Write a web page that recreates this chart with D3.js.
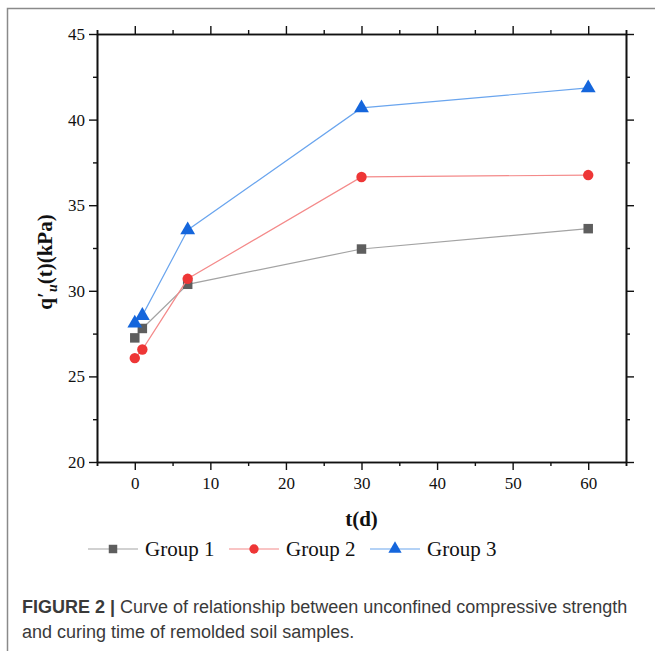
<!DOCTYPE html>
<html lang="en">

<head>
    <meta charset="UTF-8">
    <title>Figure 2</title>
    <style>
        body { margin: 0; background: #fff; }
        svg { display: block; }
        .tick text { font-family: "Liberation Serif", "Times New Roman", serif; }
    </style>
</head>

<body>
    <div id="chart"></div>

    <script src="https://d3js.org/d3.v7.min.js"></script>
    <script>

        // data
        const days = [0, 1, 7, 30, 60];
        const group1 = [27.25, 27.8, 30.38, 32.44, 33.63];
        const group2 = [26.07, 26.57, 30.7, 36.65, 36.76];
        const group3 = [28.1, 28.55, 33.55, 40.68, 41.85];
        const seriesNames = ["Group 1", "Group 2", "Group 3"];
        const xTicks = [0, 10, 20, 30, 40, 50, 60];
        const yTicks = [20, 25, 30, 35, 40, 45];

        const W = 655, H = 651;
        const margin = { top: 34, right: 29, bottom: 189, left: 97 },
            width = W - margin.left - margin.right,
            height = H - margin.top - margin.bottom;

        const serif = "Liberation Serif";
        const sans = "Liberation Sans";

        const svg = d3.select("#chart")
            .append("svg")
            .attr("width", W)
            .attr("height", H);

        // page frame (left and top rule)
        svg.append("path")
            .attr("d", `M7.5,${H} V8.5 H${W}`)
            .attr("fill", "none")
            .attr("stroke", "#8a8a8a")
            .attr("stroke-width", 1.5);

        const g = svg.append("g")
            .attr("transform", `translate(${margin.left}, ${margin.top})`);

        const x = d3.scaleLinear().domain([-5, 65]).range([0, width]);
        const y = d3.scaleLinear().domain([20, 45]).range([height, 0]);

        const minorX = d3.range(-5, 66, 10);
        const minorY = d3.range(22.5, 45, 5);

        function styleAxis(sel) {
            sel.attr("font-family", serif).attr("font-size", 17);
            sel.select(".domain").attr("stroke", "#111").attr("stroke-width", 1.6);
            sel.selectAll(".tick line").attr("stroke", "#111").attr("stroke-width", 1.4);
            sel.selectAll(".tick text").attr("fill", "#111");
        }

        // bottom axis
        g.append("g")
            .attr("transform", `translate(0, ${height})`)
            .call(d3.axisBottom(x).tickValues(xTicks).tickSize(8).tickSizeOuter(0).tickPadding(7))
            .call(styleAxis);
        g.append("g")
            .attr("transform", `translate(0, ${height})`)
            .call(d3.axisBottom(x).tickValues(minorX).tickSize(4).tickFormat(""))
            .call(styleAxis);

        // top axis
        g.append("g")
            .call(d3.axisTop(x).tickValues(xTicks).tickSize(8).tickSizeOuter(0).tickFormat(""))
            .call(styleAxis);
        g.append("g")
            .call(d3.axisTop(x).tickValues(minorX).tickSize(4).tickFormat(""))
            .call(styleAxis);

        // left axis
        g.append("g")
            .call(d3.axisLeft(y).tickValues(yTicks).tickSize(8).tickSizeOuter(0).tickPadding(4))
            .call(styleAxis);
        g.append("g")
            .call(d3.axisLeft(y).tickValues(minorY).tickSize(4).tickSizeOuter(0).tickFormat(""))
            .call(styleAxis);

        // right axis
        g.append("g")
            .attr("transform", `translate(${width}, 0)`)
            .call(d3.axisRight(y).tickValues(yTicks).tickSize(8).tickSizeOuter(0).tickFormat(""))
            .call(styleAxis);
        g.append("g")
            .attr("transform", `translate(${width}, 0)`)
            .call(d3.axisRight(y).tickValues(minorY).tickSize(4).tickSizeOuter(0).tickFormat(""))
            .call(styleAxis);

        // series
        const series = [
            { name: seriesNames[0], values: group1, line: "#a3a3a3", fill: "#5e5e5e", symbol: d3.symbolSquare, size: 90 },
            { name: seriesNames[1], values: group2, line: "#f48a8a", fill: "#ee3636", symbol: d3.symbolCircle, size: 85 },
            { name: seriesNames[2], values: group3, line: "#6aa5ee", fill: "#1566dc", symbol: d3.symbolTriangle, size: 95 }
        ];

        const line = d3.line()
            .x(d => x(d[0]))
            .y(d => y(d[1]));

        series.forEach(s => {
            const pts = days.map((t, i) => [t, s.values[i]]);
            g.append("path")
                .datum(pts)
                .attr("fill", "none")
                .attr("stroke", s.line)
                .attr("stroke-width", 1.2)
                .attr("d", line);

            g.append("g")
                .selectAll("path")
                .data(pts)
                .join("path")
                .attr("transform", d => `translate(${x(d[0])}, ${y(d[1])})`)
                .attr("d", d3.symbol().type(s.symbol).size(s.size))
                .attr("fill", s.fill);
        });

        // axis titles
        svg.append("text")
            .attr("x", margin.left + x(30))
            .attr("y", 526)
            .attr("text-anchor", "middle")
            .attr("font-family", serif)
            .attr("font-weight", "bold")
            .attr("font-size", 21)
            .attr("fill", "#111")
            .text("t(d)");

        const yLab = svg.append("text")
            .attr("transform", `translate(52, ${margin.top + height / 2 + 14}) rotate(-90)`)
            .attr("text-anchor", "middle")
            .attr("font-family", serif)
            .attr("font-weight", "bold")
            .attr("font-size", 21)
            .attr("fill", "#111");
        yLab.append("tspan").text("q\u2032");
        yLab.append("tspan")
            .attr("dy", 5)
            .attr("font-size", 14)
            .attr("font-style", "italic")
            .text("u");
        yLab.append("tspan").attr("dy", -5).text("(t)(kPa)");

        // legend
        const legendX = [88, 229, 370];
        const legendY = 549;
        series.forEach((s, i) => {
            const lg = svg.append("g").attr("transform", `translate(${legendX[i]}, ${legendY})`);
            lg.append("line")
                .attr("x1", 0).attr("x2", 50)
                .attr("stroke", s.line)
                .attr("stroke-width", 1.2);
            lg.append("path")
                .attr("transform", "translate(25, 0)")
                .attr("d", d3.symbol().type(s.symbol).size(s.size * 0.8))
                .attr("fill", s.fill);
            lg.append("text")
                .attr("x", 57)
                .attr("y", 7)
                .attr("font-family", serif)
                .attr("font-size", 21)
                .attr("fill", "#111")
                .text(s.name);
        });

        // caption
        const cap = svg.append("text")
            .attr("x", 22)
            .attr("y", 613)
            .attr("font-family", sans)
            .attr("font-size", 18)
            .attr("fill", "#3a3a3a");
        cap.append("tspan").attr("font-weight", "bold").text("FIGURE 2 | ");
        cap.append("tspan").text("Curve of relationship between unconfined compressive strength");
        svg.append("text")
            .attr("x", 22)
            .attr("y", 638)
            .attr("font-family", sans)
            .attr("font-size", 18)
            .attr("fill", "#3a3a3a")
            .text("and curing time of remolded soil samples.");

    </script>

</body>

</html>
